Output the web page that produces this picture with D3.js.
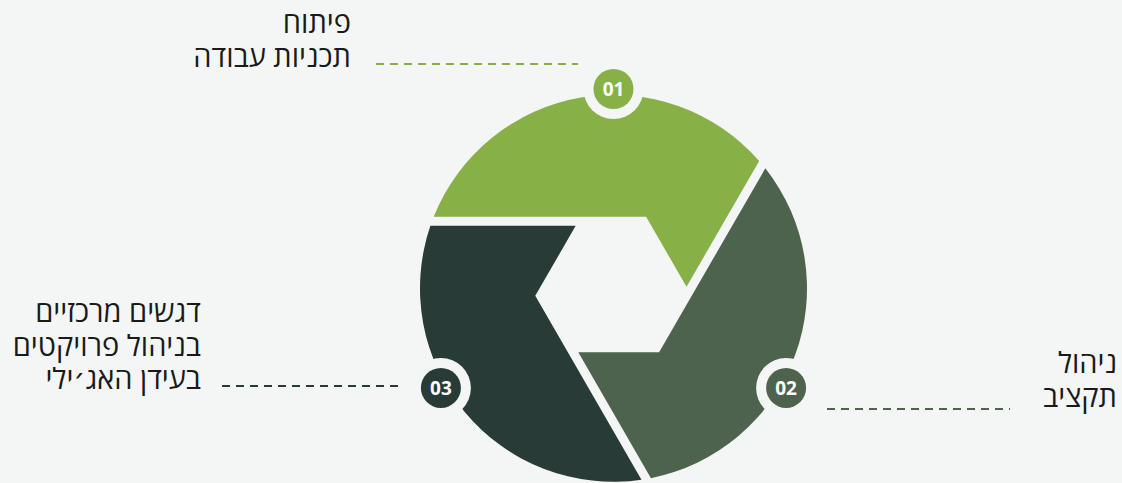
<!DOCTYPE html>
<html>
<head>
<meta charset="utf-8">
<script src="https://cdn.jsdelivr.net/npm/d3@7"></script>
<style>
  html, body { margin: 0; padding: 0; background: #f4f6f5; }
  svg { display: block; }
  text { font-family: "Open Sans", "DejaVu Sans", sans-serif; }
</style>
</head>
<body>
<div id="root"></div>
<script>
// steps of the cycle
var steps = ["01", "02", "03"];
var stepLabels = [
  ["פיתוח", "תכניות עבודה"],
  ["ניהול", "תקציב"],
  ["דגשים מרכזיים", "בניהול פרויקטים", "בעידן האג׳ילי"]
];
var stepColors = ["#87b047", "#4e634e", "#283b36"];

var width = 1122, height = 483;
var bg = "#f4f6f5";
var cx = 613.5, cy = 288.3;
var R = 193.5;      // outer radius of blades
var lineDist = 67;  // distance of blade cut lines from centre
var gap = 4.5;      // half gap between blades
var holeDist = 64;  // apothem of the hexagon hole
var badgeDist = 199.3, ringR = 30, badgeR = 20;

// where the label + leader line go for each step
var labelLayout = [
  { x: 351, y: 33, lineX1: 376, lineX2: 578, lineY: 64 },
  { x: 1117, y: 373, lineX1: 827, lineX2: 1010, lineY: 409 },
  { x: 201, y: 322, lineX1: 222, lineX2: 401, lineY: 386 }
];
var lineHeight = 33.5;

var color = d3.scaleOrdinal().domain(steps).range(stepColors);
// each step is rotated 120 degrees from the previous (0 = top blade)
var rotation = d3.scaleLinear().domain([0, steps.length]).range([0, 2 * Math.PI]);
var badgeAngle = d3.scaleLinear().domain([0, steps.length]).range([-Math.PI / 2, 1.5 * Math.PI]);

var svg = d3.select("#root").append("svg")
  .attr("width", width)
  .attr("height", height);

svg.append("rect").attr("width", width).attr("height", height).attr("fill", bg);

var deg30 = Math.PI / 6;
var c30 = Math.cos(deg30);

function rot(p, a) {
  return [cx + p[0] * Math.cos(a) - p[1] * Math.sin(a),
          cy + p[0] * Math.sin(a) + p[1] * Math.cos(a)];
}

function bladePath(i) {
  var a = rotation(i);
  var outer = lineDist + gap, inner = lineDist - gap;
  var p1 = [-Math.sqrt(R * R - outer * outer), -outer];
  var a1 = Math.atan2(p1[1], p1[0]);
  var a2 = deg30 - Math.acos(inner / R);
  var p3 = [(inner + holeDist) / (2 * c30), inner - holeDist];
  var p4 = [(holeDist - outer / 2) / c30, -outer];
  var path = d3.path();
  var s = rot(p1, a);
  path.moveTo(s[0], s[1]);
  path.arc(cx, cy, R, a1 + a, a2 + a, false);
  var q3 = rot(p3, a), q4 = rot(p4, a);
  path.lineTo(q3[0], q3[1]);
  path.lineTo(q4[0], q4[1]);
  path.closePath();
  return path.toString();
}

svg.append("g").selectAll("path")
  .data(steps)
  .join("path")
  .attr("d", function(d, i) { return bladePath(i); })
  .attr("fill", function(d) { return color(d); });

var badges = svg.append("g").selectAll("g")
  .data(steps)
  .join("g")
  .attr("transform", function(d, i) {
    var a = badgeAngle(i);
    return "translate(" + (cx + badgeDist * Math.cos(a)) + "," + (cy + badgeDist * Math.sin(a)) + ")";
  });

badges.append("circle").attr("r", ringR).attr("fill", bg);
badges.append("circle").attr("r", badgeR).attr("fill", function(d) { return color(d); });
badges.append("text")
  .attr("text-anchor", "middle")
  .attr("dy", "0.36em")
  .attr("fill", "#ffffff")
  .attr("font-size", 19)
  .attr("font-weight", 700)
  .text(function(d) { return d; });

// leader lines
svg.append("g").selectAll("line")
  .data(steps)
  .join("line")
  .attr("x1", function(d, i) { return labelLayout[i].lineX1; })
  .attr("x2", function(d, i) { return labelLayout[i].lineX2; })
  .attr("y1", function(d, i) { return labelLayout[i].lineY; })
  .attr("y2", function(d, i) { return labelLayout[i].lineY; })
  .attr("stroke", function(d) { return color(d); })
  .attr("stroke-width", 2)
  .attr("stroke-dasharray", "8,6");

// labels
var labels = svg.append("g").selectAll("text")
  .data(steps)
  .join("text")
  .attr("text-anchor", "end")
  .attr("font-size", 29)
  .attr("fill", "#1a1a1a");

labels.selectAll("tspan")
  .data(function(d, i) { return stepLabels[i].map(function(t) { return { t: t, i: i }; }); })
  .join("tspan")
  .attr("x", function(d) { return labelLayout[d.i].x; })
  .attr("y", function(d, j) { return labelLayout[d.i].y + j * lineHeight; })
  .text(function(d) { return d.t; });
</script>
</body>
</html>
